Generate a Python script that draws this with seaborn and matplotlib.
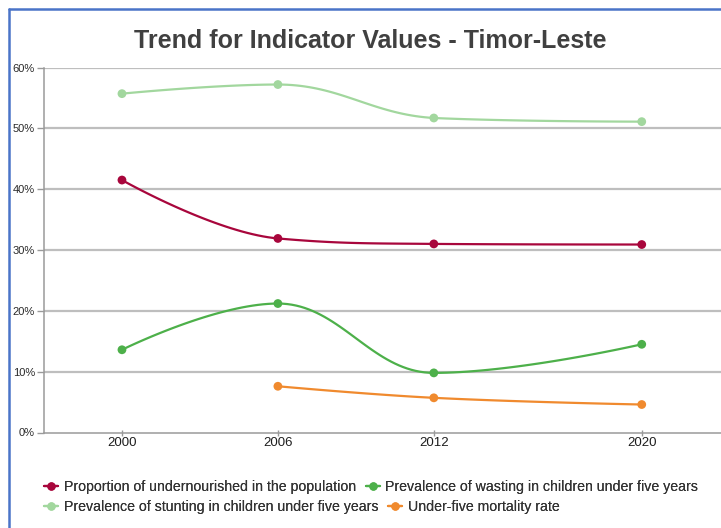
import matplotlib
matplotlib.use("Agg")
import matplotlib.pyplot as plt
from matplotlib.lines import Line2D
import numpy as np
import pandas as pd
import seaborn as sns

# values (percent)
years = [2000, 2006, 2012, 2020]
undernourished = [41.5, 31.9, 31.0, 30.9]
wasting = [13.6, 21.2, 9.8, 14.5]
stunting = [55.7, 57.2, 51.7, 51.1]
mortality = [np.nan, 7.6, 5.7, 4.6]

series_names = [
    "Proportion of undernourished in the population",
    "Prevalence of wasting in children under five years",
    "Prevalence of stunting in children under five years",
    "Under-five mortality rate",
]
series_values = [undernourished, wasting, stunting, mortality]
series_colors = ["#A8063C", "#4DB04A", "#A2D79E", "#F08A2E"]

sns.set_theme(style="white")
plt.rcParams["font.family"] = ["Liberation Sans", "DejaVu Sans"]


def spline_curve(xs, ys, smoothing=1.5, n=40):
    """Highcharts-like spline through the points (bezier segments)."""
    xs = np.asarray(xs, float)
    ys = np.asarray(ys, float)
    m = len(xs)
    left = [(x, y) for x, y in zip(xs, ys)]
    right = [(x, y) for x, y in zip(xs, ys)]
    d = smoothing + 1
    for i in range(1, m - 1):
        x, y = xs[i], ys[i]
        lx, ly = xs[i - 1], ys[i - 1]
        nx, ny = xs[i + 1], ys[i + 1]
        lcx, lcy = (smoothing * x + lx) / d, (smoothing * y + ly) / d
        rcx, rcy = (smoothing * x + nx) / d, (smoothing * y + ny) / d
        if rcx != lcx:
            corr = (rcy - lcy) * (rcx - x) / (rcx - lcx) + y - rcy
            lcy += corr
            rcy += corr
        if lcy > max(ly, y):
            lcy = max(ly, y)
            rcy = 2 * y - lcy
        elif lcy < min(ly, y):
            lcy = min(ly, y)
            rcy = 2 * y - lcy
        if rcy > max(ny, y):
            rcy = max(ny, y)
            lcy = 2 * y - rcy
        elif rcy < min(ny, y):
            rcy = min(ny, y)
            lcy = 2 * y - rcy
        left[i] = (lcx, lcy)
        right[i] = (rcx, rcy)
    t = np.linspace(0, 1, n)[:, None]
    out = []
    for i in range(m - 1):
        p0 = np.array([xs[i], ys[i]])
        p1 = np.array(right[i])
        p2 = np.array(left[i + 1])
        p3 = np.array([xs[i + 1], ys[i + 1]])
        seg = ((1 - t) ** 3) * p0 + 3 * ((1 - t) ** 2) * t * p1 + 3 * (1 - t) * t ** 2 * p2 + t ** 3 * p3
        out.append(seg if i == 0 else seg[1:])
    return np.vstack(out)


points = []
curves = []
for name, vals in zip(series_names, series_values):
    df = pd.DataFrame({"year": years, "value": vals, "series": name}).dropna()
    points.append(df)
    c = spline_curve(df["year"], df["value"])
    curves.append(pd.DataFrame({"year": c[:, 0], "value": c[:, 1], "series": name}))
points = pd.concat(points, ignore_index=True)
curves = pd.concat(curves, ignore_index=True)
palette = dict(zip(series_names, series_colors))

fig = plt.figure(figsize=(7.21, 5.28), dpi=100)
ax = fig.add_axes([44 / 721, 95.5 / 528, 677 / 721, 365 / 528])

for yv in range(10, 61, 10):
    ax.axhline(yv, color="#BEBEBE", linewidth=1.6, zorder=0)

sns.lineplot(data=curves, x="year", y="value", hue="series", palette=palette,
             estimator=None, sort=False, linewidth=1.6, legend=False, ax=ax)
sns.scatterplot(data=points, x="year", y="value", hue="series", palette=palette,
                s=40, edgecolor="none", legend=False, ax=ax, zorder=3)

ax.set_xlim(1997, 2023.05)
ax.set_ylim(0, 60)
ax.set_xticks(years)
ax.set_xticklabels([str(y) for y in years], fontsize=9.5, color="#1E1E1E")
ax.set_yticks(range(0, 61, 10))
ax.set_yticklabels([f"{v}%" for v in range(0, 61, 10)], fontsize=8, color="#2A2A2A")
ax.set_xlabel("")
ax.set_ylabel("")
for side in ["top", "right"]:
    ax.spines[side].set_visible(False)
for side in ["left", "bottom"]:
    ax.spines[side].set_color("#9A9A9A")
    ax.spines[side].set_linewidth(1.1)
ax.tick_params(axis="y", length=5, width=1, color="#9A9A9A", pad=1.5, left=True)
ax.tick_params(axis="x", length=4, width=1, color="#9A9A9A", pad=1, bottom=True, direction="inout")

fig.text(0.514, 0.923, "Trend for Indicator Values - Timor-Leste",
         fontsize=18, fontweight="bold", color="#404040", ha="center", va="center")

# blue frame (top and left edges visible in the crop)
fig.add_artist(Line2D([9 / 721, 1], [1 - 9 / 528, 1 - 9 / 528], color="#4A74C8", linewidth=1.8))
fig.add_artist(Line2D([9 / 721, 9 / 721], [0, 1 - 9 / 528], color="#4A74C8", linewidth=1.8))

# legend laid out row by row, like the reference
rows = [[0, 1], [2, 3]]
row_tops = [474, 494]
for row, top in zip(rows, row_tops):
    handles = [Line2D([], [], color=series_colors[i], marker="o", markersize=5, linewidth=1.6)
               for i in row]
    leg = fig.legend(handles, [series_names[i] for i in row], loc="upper left",
                     bbox_to_anchor=(38 / 721, 1 - top / 528), ncol=2, frameon=False,
                     fontsize=10.2, handlelength=1.0, handletextpad=0.4,
                     columnspacing=0.7, labelcolor="#333333", borderaxespad=0)
    fig.add_artist(leg)

fig.savefig("out.png", dpi=100)
